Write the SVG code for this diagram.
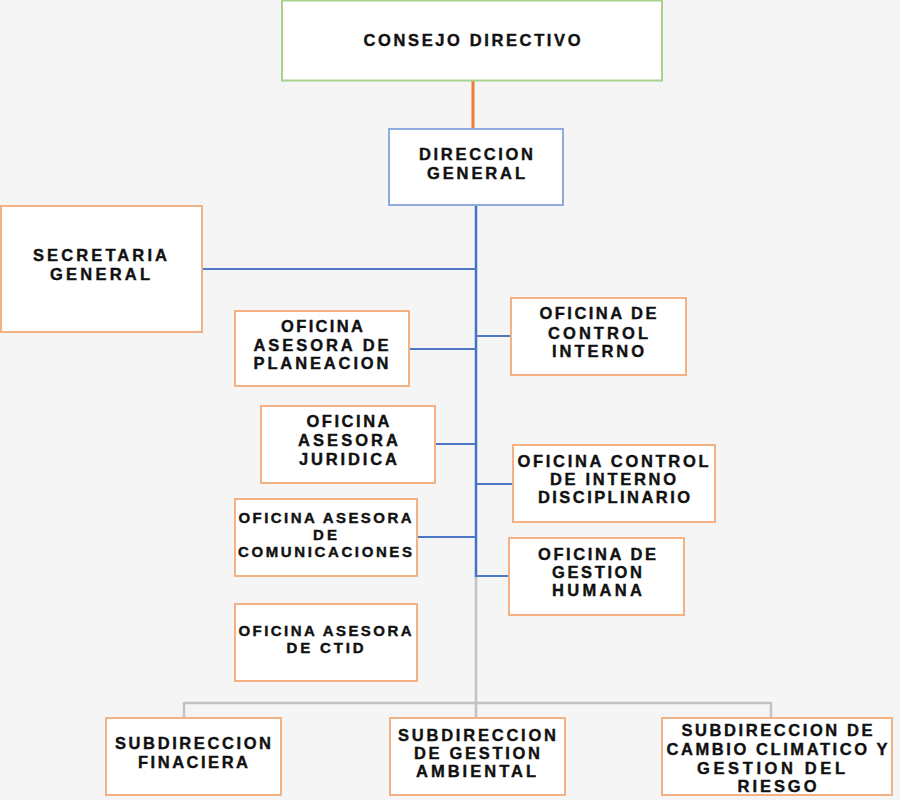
<svg xmlns="http://www.w3.org/2000/svg" width="900" height="800" viewBox="0 0 900 800">
<style>
.bx{fill:#ffffff;stroke:#f4b183;stroke-width:2}
.t{font-family:"Liberation Sans",Arial,sans-serif;font-weight:bold;font-size:16.5px;fill:#111;stroke:#111;stroke-width:0.4;text-anchor:middle}
.s{font-size:15px}
.bl{stroke:#4f78c4;stroke-width:2;fill:none}
.gr{stroke:#c3c3c3;stroke-width:2.5;fill:none}
</style>
<rect x="0" y="0" width="900" height="800" fill="#f5f5f5"/>
<g id="connectors">
<path d="M473 80V129" stroke="#ed7d31" stroke-width="3" fill="none"/>
<path class="gr" d="M476 577V719M184 703H771M184 702V719M771 702V719"/>
<path d="M476 205V577" stroke="#4472c4" stroke-width="2.5" fill="none"/>
<path class="bl" d="M202 269H476M409 349H476M476 336H511M435 444H476M476 484H513M417 537H476M476 576H509"/>
</g>
<g id="consejo">
<rect x="282" y="0.5" width="380" height="80" fill="#fff" stroke="#a9d18e" stroke-width="2"/>
<text class="t" x="472" y="46" textLength="217" lengthAdjust="spacing">CONSEJO DIRECTIVO</text>
</g>
<g id="direccion">
<rect x="389" y="129" width="174" height="76" fill="#fff" stroke="#8faadc" stroke-width="2"/>
<text class="t" x="476" y="160" textLength="114" lengthAdjust="spacing">DIRECCION</text>
<text class="t" x="476" y="179" textLength="98" lengthAdjust="spacing">GENERAL</text>
</g>
<g id="secretaria">
<rect class="bx" x="1" y="206" width="201" height="126"/>
<text class="t" x="100" y="261" textLength="134" lengthAdjust="spacing">SECRETARIA</text>
<text class="t" x="100" y="280" textLength="100" lengthAdjust="spacing">GENERAL</text>
</g>
<g id="planeacion">
<rect class="bx" x="235" y="311" width="174" height="75"/>
<text class="t" x="322" y="332" textLength="82" lengthAdjust="spacing">OFICINA</text>
<text class="t" x="321" y="351" textLength="135" lengthAdjust="spacing">ASESORA DE</text>
<text class="t" x="321" y="369" textLength="135" lengthAdjust="spacing">PLANEACION</text>
</g>
<g id="control-interno">
<rect class="bx" x="511" y="298" width="175" height="77"/>
<text class="t" x="598" y="319" textLength="117" lengthAdjust="spacing">OFICINA DE</text>
<text class="t" x="598" y="339" textLength="100" lengthAdjust="spacing">CONTROL</text>
<text class="t" x="598" y="357" textLength="92" lengthAdjust="spacing">INTERNO</text>
</g>
<g id="juridica">
<rect class="bx" x="261" y="406" width="174" height="77"/>
<text class="t" x="348" y="427" textLength="83" lengthAdjust="spacing">OFICINA</text>
<text class="t" x="348" y="446" textLength="100" lengthAdjust="spacing">ASESORA</text>
<text class="t" x="348" y="465" textLength="98" lengthAdjust="spacing">JURIDICA</text>
</g>
<g id="disciplinario">
<rect class="bx" x="513" y="445" width="202" height="77"/>
<text class="t" x="613" y="467" textLength="191" lengthAdjust="spacing">OFICINA CONTROL</text>
<text class="t" x="613" y="485" textLength="126" lengthAdjust="spacing">DE INTERNO</text>
<text class="t" x="614" y="503" textLength="152" lengthAdjust="spacing">DISCIPLINARIO</text>
</g>
<g id="comunicaciones">
<rect class="bx" x="235" y="499" width="182" height="77"/>
<text class="t s" x="325" y="523" textLength="173" lengthAdjust="spacing">OFICINA ASESORA</text>
<text class="t s" x="325" y="540" textLength="24" lengthAdjust="spacing">DE</text>
<text class="t s" x="325" y="557" textLength="174" lengthAdjust="spacing">COMUNICACIONES</text>
</g>
<g id="gestion-humana">
<rect class="bx" x="509" y="538" width="175" height="77"/>
<text class="t" x="597" y="560" textLength="118" lengthAdjust="spacing">OFICINA DE</text>
<text class="t" x="597" y="578" textLength="90" lengthAdjust="spacing">GESTION</text>
<text class="t" x="597" y="596" textLength="90" lengthAdjust="spacing">HUMANA</text>
</g>
<g id="ctid">
<rect class="bx" x="235" y="604" width="182" height="77"/>
<text class="t s" x="325" y="636" textLength="173" lengthAdjust="spacing">OFICINA ASESORA</text>
<text class="t s" x="325" y="653" textLength="77" lengthAdjust="spacing">DE CTID</text>
</g>
<g id="financiera">
<rect class="bx" x="106" y="718" width="175" height="77"/>
<text class="t" x="193" y="749" textLength="156" lengthAdjust="spacing">SUBDIRECCION</text>
<text class="t" x="193" y="768" textLength="110" lengthAdjust="spacing">FINACIERA</text>
</g>
<g id="ambiental">
<rect class="bx" x="390" y="718" width="175" height="77"/>
<text class="t" x="477" y="741" textLength="158" lengthAdjust="spacing">SUBDIRECCION</text>
<text class="t" x="477" y="759" textLength="126" lengthAdjust="spacing">DE GESTION</text>
<text class="t" x="476" y="777" textLength="120" lengthAdjust="spacing">AMBIENTAL</text>
</g>
<g id="cambio-climatico">
<rect class="bx" x="662" y="718" width="230" height="77"/>
<text class="t" x="777" y="736" textLength="191" lengthAdjust="spacing">SUBDIRECCION DE</text>
<text class="t" x="777" y="755" textLength="221" lengthAdjust="spacing">CAMBIO CLIMATICO Y</text>
<text class="t" x="771" y="774" textLength="148" lengthAdjust="spacing">GESTION DEL</text>
<text class="t" x="777" y="792" textLength="79" lengthAdjust="spacing">RIESGO</text>
</g>
</svg>
